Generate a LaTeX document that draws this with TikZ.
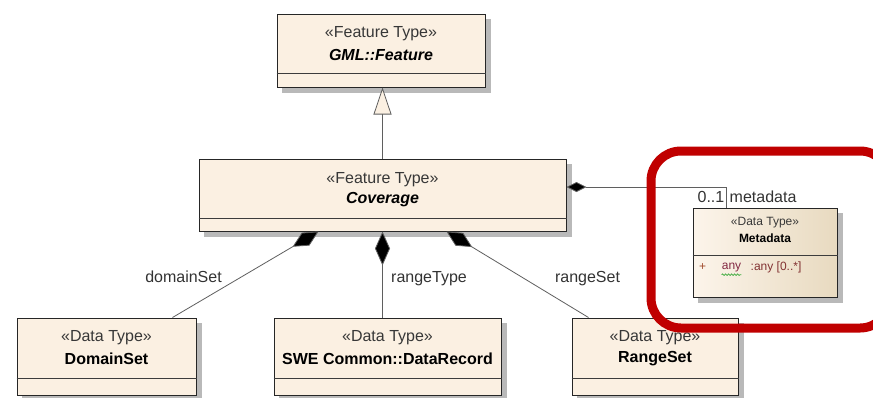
\documentclass[tikz,border=0pt]{standalone}
\usepackage{fontspec}
\setmainfont{Liberation Sans}
\usepackage{xcolor}
\usetikzlibrary{calc,backgrounds,arrows.meta,decorations.pathmorphing}
\definecolor{umlfill}{RGB}{251,240,226}
\definecolor{umltan}{RGB}{232,218,192}
\definecolor{umlline}{RGB}{95,95,95}
\definecolor{umldiv}{RGB}{60,60,60}
\definecolor{stereogray}{RGB}{55,55,55}
\definecolor{markred}{RGB}{192,0,0}
\definecolor{attrbrown}{RGB}{160,75,45}
\definecolor{attrred}{RGB}{130,50,50}
\definecolor{spellgreen}{RGB}{60,170,60}
\definecolor{shadowgray}{RGB}{185,185,185}

\begin{document}
\begin{tikzpicture}[x=1pt, y=-1pt,
  classbox/.style={draw=black!85, line width=1pt, fill=umlfill, inner sep=0pt},
  boxshadow/.style={fill=shadowgray},
  stereo/.style={font=\fontsize{16}{18}\selectfont, text=stereogray, inner sep=0pt},
  cname/.style={font=\fontsize{16}{18}\selectfont\bfseries, text=black, inner sep=0pt},
  rolelabel/.style={font=\fontsize{16}{18}\selectfont, text=black!80, inner sep=0pt},
  divline/.style={draw=umldiv, line width=0.9pt},
  conn/.style={draw=umlline, line width=0.8pt}]
  \useasboundingbox (0,0) rectangle (873,397);
  \clip (0,0) rectangle (873,397);
  \node[classbox, minimum width=208, minimum height=73] (feat) at (381,50.5) {};
  \node[classbox, minimum width=367, minimum height=72] (cov) at (382.5,195) {};
  \node[classbox, minimum width=179, minimum height=77] (dom) at (106.5,356.5) {};
  \node[classbox, minimum width=227, minimum height=77] (swe) at (387.5,356.5) {};
  \node[classbox, minimum width=166, minimum height=77] (rng) at (655,356.5) {};
  \node[classbox, minimum width=144, minimum height=89, left color=umlfill!70!white, right color=umltan] (meta) at (765,252.5) {};
  \begin{scope}[on background layer]
    \fill[white] (0,0) rectangle (873,397);
    \fill[boxshadow] ($(feat.north west)+(5,5)$) rectangle ($(feat.south east)+(5,5)$);
    \fill[boxshadow] ($(cov.north west)+(5,5)$) rectangle ($(cov.south east)+(5,5)$);
    \fill[boxshadow] ($(dom.north west)+(5,5)$) rectangle ($(dom.south east)+(5,5)$);
    \fill[boxshadow] ($(swe.north west)+(5,5)$) rectangle ($(swe.south east)+(5,5)$);
    \fill[boxshadow] ($(rng.north west)+(5,5)$) rectangle ($(rng.south east)+(5,5)$);
    \fill[boxshadow] ($(meta.north west)+(5,5)$) rectangle ($(meta.south east)+(5,5)$);
  \end{scope}
  \draw[divline] ($(feat.north west)+(0,60)$) -- ($(feat.north east)+(0,60)$);
  \draw[divline] ($(cov.north west)+(0,60)$) -- ($(cov.north east)+(0,60)$);
  \draw[divline] ($(dom.north west)+(0,61)$) -- ($(dom.north east)+(0,61)$);
  \draw[divline] ($(swe.north west)+(0,61)$) -- ($(swe.north east)+(0,61)$);
  \draw[divline] ($(rng.north west)+(0,61)$) -- ($(rng.north east)+(0,61)$);
  \draw[divline] ($(meta.north west)+(0,48)$) -- ($(meta.north east)+(0,48)$);
  \node[stereo] (featst) at ($(feat.north)+(0,20)$) {«Feature Type»};
  \node[cname, font=\fontsize{16}{18}\selectfont\bfseries\itshape] (featnm) at ($(feat.north)+(0,41)$) {GML::Feature};
  \node[stereo] (covst) at ($(cov.north)+(0,21)$) {«Feature Type»};
  \node[cname, font=\fontsize{16}{18}\selectfont\bfseries\itshape] (covnm) at ($(cov.north)+(0,41)$) {Coverage};
  \node[stereo] (domst) at ($(dom.north)+(0,20)$) {«Data Type»};
  \node[cname] (domnm) at ($(dom.north)+(0,41)$) {DomainSet};
  \node[stereo] (swest) at ($(swe.north)+(0,20)$) {«Data Type»};
  \node[cname] (swenm) at ($(swe.north)+(0,41)$) {SWE Common::DataRecord};
  \node[stereo] (rngst) at ($(rng.north)+(0,20)$) {«Data Type»};
  \node[cname] (rngnm) at ($(rng.north)+(0,41)$) {RangeSet};
  \node[stereo, font=\fontsize{12}{14}\selectfont] (metast) at ($(meta.north)+(0,15)$) {«Data Type»};
  \node[cname, font=\fontsize{12}{14}\selectfont\bfseries] (metanm) at ($(meta.north)+(0,31)$) {Metadata};
  \node[font=\fontsize{12}{14}\selectfont, text=attrbrown, inner sep=0pt] (attrplus) at ($(meta.north west)+(10,60)$) {+};
  \node[font=\fontsize{12}{14}\selectfont, text=attrred!80!violet, inner sep=0pt] (attrname) at ($(meta.north west)+(39,60)$) {any};
  \node[font=\fontsize{12}{14}\selectfont, text=attrred, inner sep=0pt, anchor=west] (attrtype) at ($(meta.north west)+(58,60)$) {:any [0..*]};
  \draw[spellgreen, line width=0.7pt, decorate, decoration={snake, amplitude=0.8pt, segment length=3pt}] ($(attrname.south west)+(0,2.5)$) -- ($(attrname.south east)+(0,2.5)$);
  \draw[conn, -{Triangle[length=27pt, width=18pt, fill=umlfill]}] (cov.north) -- (cov.north |- feat.south);
  \draw[conn, {Diamond[length=30pt, width=15pt, fill=black]}-] ($(cov.south)+(-64,0)$) -- ($(dom.north west)+(156,0)$);
  \draw[conn, {Diamond[length=34pt, width=15pt, fill=black]}-] (cov.south) -- (cov.south |- swe.north);
  \draw[conn, {Diamond[length=30pt, width=15pt, fill=black]}-] ($(cov.south)+(64,0)$) -- ($(rng.north west)+(17,0)$);
  \draw[conn, {Diamond[length=20pt, width=10pt, fill=black]}-] ($(cov.east)+(0,-8)$) -| ($(meta.north west)+(34,0)$);
  \node[rolelabel] (domlbl) at (183.5,277) {domainSet};
  \node[rolelabel] (typelbl) at (429,279) {rangeType};
  \node[rolelabel] (rnglbl) at (587.5,279) {rangeSet};
  \node[rolelabel, anchor=east] (multlbl) at ($(meta.north west)+(32,-11)$) {0..1};
  \node[rolelabel, anchor=west] (metalbl) at ($(meta.north west)+(37,-11)$) {metadata};
  \draw[markred, line width=9pt, rounded corners=30pt] (651,151) rectangle (890,328);
\end{tikzpicture}
\end{document}
